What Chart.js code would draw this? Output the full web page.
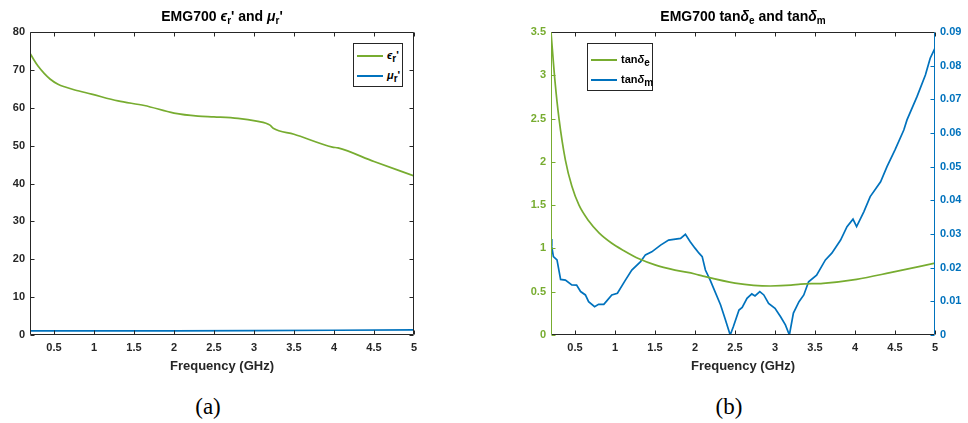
<!DOCTYPE html>
<html>
<head>
<meta charset="utf-8">
<script src="https://cdn.jsdelivr.net/npm/chart.js@4.4.1/dist/chart.umd.min.js"></script>
<style>
body { margin: 0; background: #fff; width: 968px; height: 423px; overflow: hidden; position: relative; font-family: "Liberation Sans", Arial, sans-serif; }
.panel { position: absolute; top: 0; width: 484px; height: 380px; }
.title { position: absolute; top: 8px; font-weight: bold; font-size: 14px; line-height: 16px; color: #000; white-space: nowrap; transform: translateX(-50%); }
.title sub, .legend sub { font-size: 10px; line-height: 0; vertical-align: -3px; }
.legend { position: absolute; border: 1px solid #262626; background: #fff; box-sizing: border-box; font-weight: bold; font-size: 11px; color: #000; }
.legend .row { position: absolute; left: 3px; height: 14px; white-space: nowrap; }
.legend .sw { position: absolute; left: 0; top: 6px; width: 26px; height: 2px; }
.legend .lb { position: absolute; left: 30px; top: -1px; line-height: 14px; }
.cap { position: absolute; top: 395px; font-family: "Liberation Serif", "Times New Roman", serif; font-size: 23px; line-height: 23px; transform: translateX(-50%); }
</style>
</head>
<body>
<div class="panel" style="left:0"><canvas id="chartA" width="484" height="380"></canvas></div>
<div class="panel" style="left:484px"><canvas id="chartB" width="484" height="380"></canvas></div>
<div class="title" style="left:222px">EMG700 <i>ϵ</i><sub>r</sub>' and <i>μ</i><sub>r</sub>'</div>
<div class="title" style="left:743px">EMG700 tan<i>δ</i><sub>e</sub> and tan<i>δ</i><sub>m</sub></div>
<div class="legend" id="legA" style="left:353px;top:43px;width:50px;height:44px"></div>
<div class="legend" id="legB" style="left:587px;top:43px;width:66px;height:48px"></div>
<div class="cap" style="left:208px">(a)</div>
<div class="cap" style="left:729px">(b)</div>
<script>
// frequency ticks shared by both panels (GHz)
const xTicks = [0.5, 1, 1.5, 2, 2.5, 3, 3.5, 4, 4.5, 5];
const yTicksA = [0, 10, 20, 30, 40, 50, 60, 70, 80];
const yTicksE = [0, 0.5, 1, 1.5, 2, 2.5, 3, 3.5];
const yTicksM = [0, 0.01, 0.02, 0.03, 0.04, 0.05, 0.06, 0.07, 0.08, 0.09];

// (a) permittivity / permeability, real parts
const epsFreq = [0.2, 0.25, 0.3, 0.38, 0.45, 0.55, 0.65, 0.76, 0.97, 1.3, 1.63, 2.0, 2.3, 2.5, 2.8, 3.05, 3.15, 3.2, 3.24, 3.5, 3.98, 4.05, 4.5, 5.0];
const epsReal = [74.4, 72.6, 71.0, 69.0, 67.6, 66.2, 65.4, 64.7, 63.6, 61.8, 60.6, 58.6, 57.8, 57.6, 57.2, 56.4, 55.9, 55.4, 54.6, 53.0, 49.6, 49.4, 45.8, 42.0];
const muFreq = [0.2, 1, 2, 3, 4, 5];
const muReal = [1.1, 1.1, 1.1, 1.15, 1.25, 1.35];

// (b) loss tangents
const tanEFreq = [0.2, 0.25, 0.3, 0.38, 0.46, 0.55, 0.67, 0.8, 0.96, 1.1, 1.3, 1.5, 1.75, 2.0, 2.1, 2.5, 2.94, 3.2, 3.32, 3.6, 4.02, 4.44, 5.0];
const tanE = [3.5, 2.93, 2.5, 2.02, 1.72, 1.5, 1.32, 1.18, 1.06, 0.98, 0.88, 0.81, 0.75, 0.705, 0.68, 0.60, 0.566, 0.575, 0.588, 0.597, 0.643, 0.72, 0.83];
const tanMFreq = [0.2, 0.21, 0.23, 0.275, 0.32, 0.38, 0.46, 0.52, 0.57, 0.63, 0.67, 0.745, 0.795, 0.86, 0.9, 0.96, 1.03, 1.13, 1.21, 1.32, 1.38, 1.46, 1.57, 1.67, 1.82, 1.88, 1.94, 2.0, 2.05, 2.09, 2.13, 2.19, 2.25, 2.32, 2.38, 2.44, 2.48, 2.55, 2.59, 2.65, 2.71, 2.75, 2.81, 2.86, 2.92, 3.0, 3.07, 3.13, 3.18, 3.23, 3.3, 3.36, 3.42, 3.52, 3.63, 3.71, 3.82, 3.9, 3.975, 4.02, 4.11, 4.19, 4.32, 4.4, 4.5, 4.61, 4.65, 4.775, 4.88, 4.94, 5.0];
const tanM = [0.0285, 0.0262, 0.0233, 0.0223, 0.0165, 0.0163, 0.0149, 0.0148, 0.0129, 0.0119, 0.0099, 0.0084, 0.0091, 0.0091, 0.0102, 0.0119, 0.0124, 0.0163, 0.0193, 0.0218, 0.0238, 0.0247, 0.0267, 0.0282, 0.0287, 0.0299, 0.0277, 0.0258, 0.0243, 0.0233, 0.0193, 0.0163, 0.0129, 0.0089, 0.0045, 0.0, 0.0025, 0.0074, 0.0082, 0.0109, 0.0122, 0.0116, 0.0129, 0.0119, 0.0094, 0.0079, 0.0054, 0.003, 0.0, 0.0065, 0.0099, 0.0119, 0.0158, 0.0178, 0.0223, 0.0243, 0.0282, 0.0322, 0.0344, 0.0322, 0.0366, 0.0411, 0.0455, 0.05, 0.055, 0.0609, 0.0639, 0.0708, 0.0772, 0.0822, 0.0852];

const legendA = ["<i>ϵ</i><sub>r</sub>'", "<i>μ</i><sub>r</sub>'"];
const legendB = ["tan<i>δ</i><sub>e</sub>", "tan<i>δ</i><sub>m</sub>"];

const GREEN = '#77AC30', BLUE = '#0072BD', AXIS = '#262626';
const tickFont = { family: '"Liberation Sans", Arial, sans-serif', size: 11, weight: 'bold' };

function pts(xs, ys) { return xs.map((x, i) => ({ x: x, y: ys[i] })); }
function fixTicks(list) { return scale => { scale.ticks = list.map(v => ({ value: v })); }; }

// MATLAB-style box with inward ticks
const boxPlugin = {
  id: 'mbox',
  afterDatasetsDraw(chart, args, o) {
    const { ctx, chartArea: a, scales } = chart;
    const L = a.left + 0.5, R = a.right - 0.5, T = a.top + 0.5, B = a.bottom - 0.5, tl = 4;
    ctx.save();
    ctx.lineWidth = 1;
    function seg(c, x1, y1, x2, y2) { ctx.strokeStyle = c; ctx.beginPath(); ctx.moveTo(x1, y1); ctx.lineTo(x2, y2); ctx.stroke(); }
    scales.x.ticks.forEach(t => {
      const px = Math.round(scales.x.getPixelForValue(t.value)) + 0.5;
      seg(AXIS, px, B, px, B - tl);
      seg(AXIS, px, T, px, T + tl);
    });
    scales[o.leftScale].ticks.forEach(t => {
      const py = Math.round(scales[o.leftScale].getPixelForValue(t.value)) + 0.5;
      seg(o.leftColor, L, py, L + tl, py);
    });
    scales[o.rightScale].ticks.forEach(t => {
      const py = Math.round(scales[o.rightScale].getPixelForValue(t.value)) + 0.5;
      seg(o.rightColor, R, py, R - tl, py);
    });
    seg(AXIS, L, T, R, T);
    seg(AXIS, L, B, R, B);
    seg(o.leftColor, L, T, L, B);
    seg(o.rightColor, R, T, R, B);
    ctx.restore();
  }
};

function xScale() {
  return {
    type: 'linear', min: 0.2, max: 5,
    afterBuildTicks: fixTicks(xTicks),
    afterFit: s => { s.height = 45; },
    grid: { display: false, drawTicks: false, tickLength: 0 },
    border: { display: false },
    ticks: { font: tickFont, color: AXIS, padding: 6, autoSkip: false, maxRotation: 0, callback: v => String(v) },
    title: { display: true, text: 'Frequency (GHz)', color: AXIS, font: { family: tickFont.family, size: 13, weight: 'bold' }, padding: { top: 0, bottom: 6 } }
  };
}
function yScale(list, min, max, color, pos, width) {
  return {
    type: 'linear', position: pos, min: min, max: max,
    afterBuildTicks: fixTicks(list),
    afterFit: s => { s.width = width; },
    grid: { display: false, drawTicks: false, tickLength: 0 },
    border: { display: false },
    ticks: { font: tickFont, color: color, padding: 5, autoSkip: false, callback: v => String(v) }
  };
}

new Chart(document.getElementById('chartA'), {
  type: 'line',
  data: {
    datasets: [
      { label: 'eps', data: pts(epsFreq, epsReal), borderColor: GREEN, borderWidth: 1.7, pointRadius: 0, cubicInterpolationMode: 'monotone' },
      { label: 'mu', data: pts(muFreq, muReal), borderColor: BLUE, borderWidth: 1.7, pointRadius: 0 }
    ]
  },
  options: {
    responsive: false, animation: false,
    layout: { padding: { top: 32, right: 70, left: 0, bottom: 0 } },
    plugins: { legend: { display: false }, tooltip: { enabled: false },
      mbox: { leftScale: 'y', rightScale: 'y', leftColor: AXIS, rightColor: AXIS } },
    scales: { x: xScale(), y: yScale(yTicksA, 0, 80, AXIS, 'left', 30) }
  },
  plugins: [boxPlugin]
});

new Chart(document.getElementById('chartB'), {
  type: 'line',
  data: {
    datasets: [
      { label: 'tanE', data: pts(tanEFreq, tanE), borderColor: GREEN, borderWidth: 1.7, pointRadius: 0, cubicInterpolationMode: 'monotone', yAxisID: 'y' },
      { label: 'tanM', data: pts(tanMFreq, tanM), borderColor: BLUE, borderWidth: 1.7, pointRadius: 0, yAxisID: 'y2' }
    ]
  },
  options: {
    responsive: false, animation: false,
    layout: { padding: { top: 32, right: 0, left: 0, bottom: 0 } },
    plugins: { legend: { display: false }, tooltip: { enabled: false },
      mbox: { leftScale: 'y', rightScale: 'y2', leftColor: GREEN, rightColor: BLUE } },
    scales: {
      x: xScale(),
      y: yScale(yTicksE, 0, 3.5, GREEN, 'left', 67),
      y2: yScale(yTicksM, 0, 0.09, BLUE, 'right', 33)
    }
  },
  plugins: [boxPlugin]
});

function buildLegend(id, labels, colors, rowTops) {
  const box = document.getElementById(id);
  labels.forEach((lab, i) => {
    const row = document.createElement('div');
    row.className = 'row';
    row.style.top = rowTops[i] + 'px';
    row.innerHTML = '<span class="sw" style="background:' + colors[i] + '"></span><span class="lb">' + lab + '</span>';
    box.appendChild(row);
  });
}
buildLegend('legA', legendA, [GREEN, BLUE], [5, 25]);
buildLegend('legB', legendB, [GREEN, BLUE], [9, 29]);
</script>
</body>
</html>
